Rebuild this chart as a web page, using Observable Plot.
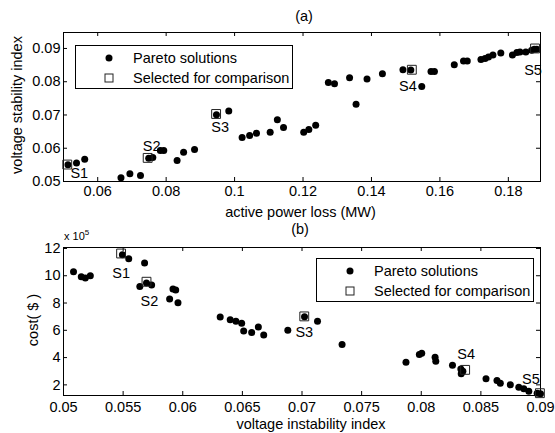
<!DOCTYPE html>
<html><head><meta charset="utf-8">
<script src="https://cdn.jsdelivr.net/npm/d3@7"></script>
<script src="https://cdn.jsdelivr.net/npm/@observablehq/plot@0.6"></script>
<style>
body{margin:0;background:#fff;font-family:"Liberation Sans",Arial,sans-serif;color:#000}
#wrap{position:relative;width:555px;height:433px;overflow:hidden;background:#fff}
.plot{position:absolute;left:0}
.lbl{position:absolute;font-size:14.5px;white-space:nowrap;transform:translate(-50%,-50%);line-height:1}
.rot{transform:translate(-50%,-50%) rotate(-90deg)}
.legend{position:absolute;border:1px solid #000;background:#fff;box-sizing:border-box;width:218px;height:44px;font-size:14.5px}
.legend .dot{position:absolute;width:7px;height:7px;border-radius:50%;background:#000;transform:translate(-50%,-50%)}
.legend .sq{position:absolute;width:9px;height:9px;border:1px solid #222;box-sizing:border-box;transform:translate(-50%,-50%)}
.legend .t{position:absolute;transform:translateY(-50%);line-height:1;white-space:nowrap}
</style>
</head><body>
<div id="wrap"></div>
<script>
// ---- (a) active power loss vs voltage stability index ----
const lossA = [0.0513,0.0538,0.0562,0.0668,0.0694,0.0725,0.0749,0.0761,0.0783,0.0793,
  0.0832,0.0851,0.0883,0.0947,0.0983,0.1022,0.1044,0.1064,0.1104,0.1125,
  0.1143,0.1202,0.1217,0.1237,0.1274,0.1292,0.1336,0.1355,0.1387,0.1432,
  0.1492,0.1515,0.1547,0.1574,0.1584,0.1642,0.1669,0.1680,0.1720,0.1732,
  0.1742,0.1755,0.1778,0.1812,0.1825,0.1834,0.1851,0.1868,0.1876,0.1883];
const stabA = [0.0550,0.0556,0.0567,0.0511,0.0523,0.0518,0.0570,0.0572,0.0593,0.0593,
  0.0563,0.0588,0.0596,0.0701,0.0712,0.0632,0.0638,0.0645,0.0648,0.0686,
  0.0662,0.0648,0.0656,0.0669,0.0798,0.0794,0.0812,0.0732,0.0808,0.0824,
  0.0836,0.0835,0.0786,0.0831,0.0831,0.0851,0.0862,0.0862,0.0867,0.0870,
  0.0874,0.0880,0.0886,0.0880,0.0888,0.0889,0.0889,0.0895,0.0898,0.0898];
const selLossA = [0.0511,0.0746,0.0946,0.1518,0.1878];
const selStabA = [0.0551,0.0571,0.0703,0.0836,0.0900];
const selNames = ["S1","S2","S3","S4","S5"];
const xTicksA = [0.06,0.08,0.1,0.12,0.14,0.16,0.18];
const yTicksA = [0.05,0.06,0.07,0.08,0.09];

// ---- (b) voltage instability index vs cost (x 10^5 $) ----
const instabB = [0.05084,0.05149,0.05183,0.05225,0.05494,0.05547,0.0568,0.0564,0.05696,0.05739,
  0.05918,0.05941,0.0589,0.0596,0.06314,0.06398,0.06446,0.06494,0.06511,0.06578,
  0.06634,0.06679,0.06881,0.07021,0.0713,0.07336,0.07872,0.07984,0.08004,0.08116,
  0.08122,0.08262,0.08332,0.08335,0.08349,0.08543,0.08635,0.08663,0.08747,0.08818,
  0.0886,0.08902,0.08972,0.0900];
const costB = [10.3,9.93,9.83,10.0,11.54,11.25,10.93,9.22,9.47,9.32,
  9.03,8.95,8.30,8.02,6.98,6.78,6.66,6.51,5.95,5.83,
  6.25,5.66,6.0,7.0,6.66,4.95,3.65,4.22,4.31,4.02,
  3.73,3.43,3.17,2.81,3.0,2.44,2.32,2.12,2.0,1.82,
  1.71,1.53,1.39,1.34];
const selInstabB = [0.05483,0.05696,0.07019,0.08368,0.08995];
const selCostB = [11.63,9.56,7.02,3.10,1.39];
const xTicksB = [0.05,0.055,0.06,0.065,0.07,0.075,0.08,0.085,0.09];
const yTicksB = [2,4,6,8,10,12];

const legendNames = ["Pareto solutions","Selected for comparison"];

// ---------- drawing ----------
const fmt = d => String(+d.toFixed(4));
const font = {fontFamily:'"Liberation Sans", Arial, sans-serif', fontSize:"14.5px", background:"transparent", color:"#000"};
const TL = 4; // inner tick length

function panel({px, py, sx, sy, sel, xDom, yDom, xT, yT, height, mt, mb, xPad, offs}) {
  const W = 555, ml = 63, mr = 15;
  const fw = W - ml - mr, fh = height - mt - mb;
  const pts = px.map((x,i)=>({x, y: py[i]}));
  const s = sx.map((x,i)=>({x, y: sy[i], name: sel[i], dx: offs[i][0], dy: offs[i][1]}));
  return Plot.plot({
    width: W, height, marginLeft: ml, marginRight: mr, marginTop: mt, marginBottom: mb,
    style: font,
    x: {domain: xDom},
    y: {domain: yDom},
    marks: [
      Plot.axisX(xT, {tickSize: 0, tickPadding: xPad, tickFormat: fmt, label: null, fontSize: 14.5}),
      Plot.axisY(yT, {tickSize: 0, tickPadding: 3, tickFormat: fmt, label: null, fontSize: 14.5}),
      Plot.ruleX(xT, {x: d=>d, insetTop: fh - TL, stroke: "#000"}),
      Plot.ruleX(xT, {x: d=>d, insetBottom: fh - TL, stroke: "#000"}),
      Plot.ruleY(yT, {y: d=>d, insetRight: fw - TL, stroke: "#000"}),
      Plot.ruleY(yT, {y: d=>d, insetLeft: fw - TL, stroke: "#000"}),
      Plot.frame({stroke: "#000"}),
      Plot.dot(pts, {x: "x", y: "y", r: 3.5, fill: "#000", stroke: null}),
      Plot.dot(s, {x: "x", y: "y", symbol: "square", r: 5, fill: "none", stroke: "#222", strokeWidth: 1}),
      ...s.map(d => Plot.text([d], {x: "x", y: "y", text: "name", dx: d.dx, dy: d.dy, fontSize: 14.5, fill: "#000"}))
    ]
  });
}

const wrap = document.getElementById("wrap");

const pA = panel({px: lossA, py: stabA, sx: selLossA, sy: selStabA, sel: selNames,
  xDom: [0.05, 0.1894], yDom: [0.05, 0.0948], xT: xTicksA, yT: yTicksA,
  height: 202, mt: 32, mb: 21, xPad: 4,
  offs: [[12,9],[4,-12],[4,13],[-4,17],[-2,22]]});
pA.classList.add("plot"); pA.style.top = "0px";
wrap.appendChild(pA);

const pB = panel({px: instabB, py: costB, sx: selInstabB, sy: selCostB, sel: selNames,
  xDom: [0.05, 0.09], yDom: [1.22, 12.07], xT: xTicksB, yT: yTicksB,
  height: 213, mt: 27, mb: 38, xPad: 6,
  offs: [[0,20],[3,20],[0,16],[1,-15],[-9,-14]]});
pB.classList.add("plot"); pB.style.top = "220px";
wrap.appendChild(pB);

function label(text, x, y, rot) {
  const d = document.createElement("div");
  d.className = "lbl" + (rot ? " rot" : "");
  d.style.left = x + "px"; d.style.top = y + "px";
  d.innerHTML = text;
  wrap.appendChild(d);
}
label("(a)", 304, 16);
label("active power loss (MW)", 300.5, 212);
label("voltage stability index", 17, 105, true);
label("(b)", 300, 229);
label("voltage instability index", 311, 424);
label("cost( $ )", 33, 320, true);

const ex = document.createElement("div");
ex.style.cssText = "position:absolute;left:64px;top:229px;font-size:11px;line-height:1;white-space:nowrap";
ex.innerHTML = 'x 10<sup style="font-size:8px;vertical-align:5px">5</sup>';
wrap.appendChild(ex);

function legend(left, top) {
  const L = document.createElement("div");
  L.className = "legend";
  L.style.left = left + "px"; L.style.top = top + "px";
  L.innerHTML =
    `<div class="dot" style="left:33px;top:11.5px"></div><div class="t" style="left:57px;top:11.5px">${legendNames[0]}</div>` +
    `<div class="sq" style="left:33px;top:32px"></div><div class="t" style="left:57px;top:32px">${legendNames[1]}</div>`;
  wrap.appendChild(L);
}
legend(75, 45);
legend(316, 258);
</script>
</body></html>
